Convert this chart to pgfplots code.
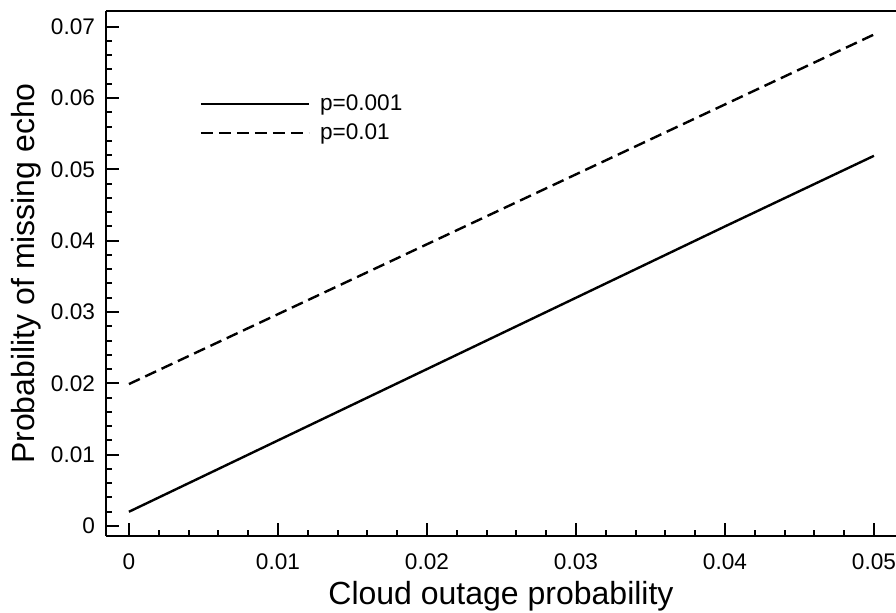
\documentclass[border=0pt]{standalone}
\usepackage{fontspec}
\setmainfont{Liberation Sans}
\usepackage{pgfplots}
\pgfplotsset{compat=1.18}
\usetikzlibrary{calc}

\begin{document}
\begin{tikzpicture}
\begin{axis}[
    scale only axis,
    width=395pt, height=262.5pt,
    xmin=-0.00154, xmax=0.05148,
    ymin=-0.0014, ymax=0.0722,
    axis y line*=left,
    xtick pos=bottom,
    xtick={0,0.01,0.02,0.03,0.04,0.05},
    ytick={0,0.01,0.02,0.03,0.04,0.05,0.06,0.07},
    minor x tick num=4,
    minor y tick num=4,
    tick align=inside,
    major tick length=6.5pt,
    minor tick length=3pt,
    every tick/.style={black, line width=1pt},
    axis line style={line width=1.2pt},
    scaled ticks=false,
    /pgf/number format/fixed,
    /pgf/number format/precision=2,
    /pgf/number format/assume math mode=true,
    tick label style={font=\fontsize{11.3}{13}\selectfont},
    xticklabel style={yshift=-5.5pt},
    yticklabel style={xshift=-2pt},
    xlabel={Cloud outage probability},
    ylabel={Probability of missing echo},
    label style={font=\fontsize{16}{19}\selectfont},
    xlabel style={yshift=1.5pt},
    ylabel style={yshift=-2pt},
    legend style={at={(axis description cs:0.118,0.8486)}, anchor=north west,
        draw=none, fill=none, font=\fontsize{11.3}{13}\selectfont,
        row sep=1pt, inner sep=0pt},
    legend cell align=left,
    legend image code/.code={\draw[#1] (0pt,0pt) -- (54pt,0pt); \path (57pt,0pt);},
]
\addplot[black, line width=1.2pt] coordinates {
    (0, 0.0020) (0.01, 0.0120) (0.02, 0.0220) (0.03, 0.0320) (0.04, 0.0420) (0.05, 0.0519)
};
\addlegendentry{p=0.001}
\addplot[black, line width=1.2pt, dash pattern=on 6pt off 3pt] coordinates {
    (0, 0.0199) (0.01, 0.0297) (0.02, 0.0395) (0.03, 0.0493) (0.04, 0.0591) (0.05, 0.0689)
};
\addlegendentry{p=0.01}
\end{axis}
\pgfresetboundingbox
\path[use as bounding box] ($(current axis.south west)+(-53pt,-38pt)$) rectangle ($(current axis.north east)+(0,5.5pt)$);
\end{tikzpicture}
\end{document}
